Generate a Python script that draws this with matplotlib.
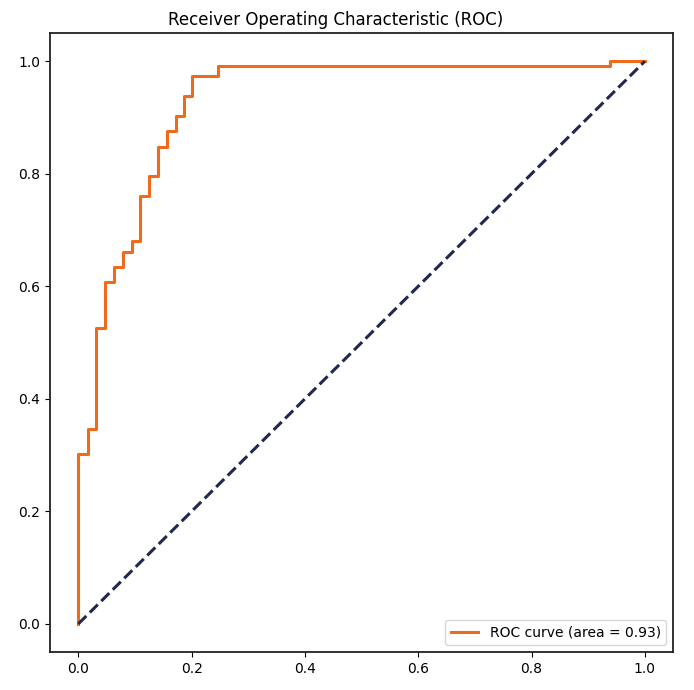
import matplotlib
matplotlib.use("Agg")
import matplotlib.pyplot as plt

fpr = [0.0, 0.0, 0.0164, 0.0164, 0.032, 0.032, 0.047, 0.047, 0.063, 0.063,
       0.079, 0.079, 0.095, 0.095, 0.109, 0.109, 0.125, 0.125, 0.141, 0.141,
       0.156, 0.156, 0.172, 0.172, 0.187, 0.187, 0.2005, 0.2005, 0.247, 0.247,
       0.938, 0.938, 1.0]
tpr = [0.0, 0.3025, 0.3025, 0.347, 0.347, 0.526, 0.526, 0.607, 0.607, 0.634,
       0.634, 0.661, 0.661, 0.680, 0.680, 0.760, 0.760, 0.796, 0.796, 0.848,
       0.848, 0.876, 0.876, 0.903, 0.903, 0.938, 0.938, 0.974, 0.974, 0.992,
       0.992, 1.0, 1.0]
roc_auc = 0.93
diag_x = [0, 1]
diag_y = [0, 1]

fig = plt.figure(figsize=(6.94, 6.90), dpi=100)
ax = fig.add_axes([0.072, 0.055, 0.898, 0.897])
ax.plot(fpr, tpr, color='#ee6a1c', lw=2.2, label='ROC curve (area = %0.2f)' % roc_auc)
ax.plot(diag_x, diag_y, color='#23264f', lw=2.2, linestyle='--')
ax.set_title('Receiver Operating Characteristic (ROC)', fontsize=12, x=0.458)
ax.tick_params(labelsize=10)
for s in ax.spines.values():
    s.set_linewidth(1.3)
    s.set_color('#222222')
ax.legend(loc='lower right', fontsize=10)
fig.savefig('out.png', dpi=100)
